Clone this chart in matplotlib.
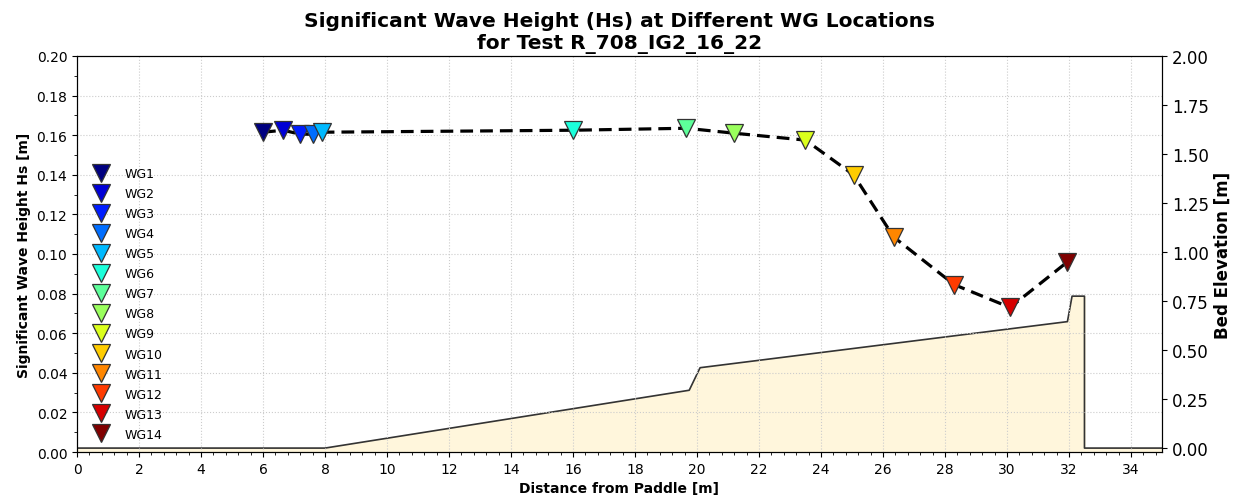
import matplotlib
matplotlib.use("Agg")
import matplotlib.pyplot as plt
import numpy as np
from matplotlib.ticker import AutoMinorLocator, MultipleLocator

# wave gauge positions and measured Hs
wg_names = ['WG%d' % i for i in range(1, 15)]
wg_x = [6.0, 6.65, 7.2, 7.6, 7.9, 16.0, 19.65, 21.2, 23.5, 25.05, 26.35, 28.3, 30.1, 31.95]
hs = [0.1615, 0.1625, 0.1605, 0.1605, 0.1615, 0.1625, 0.1635, 0.161, 0.1575, 0.140,
      0.1085, 0.0845, 0.0730, 0.0960]

# bathymetry profile
bed_x = [0.0, 8.0, 19.75, 20.1, 31.95, 32.1, 32.5, 32.5, 35.0]
bed_z = [0.0, 0.0, 0.295, 0.41, 0.645, 0.775, 0.775, 0.0, 0.0]

fig, ax = plt.subplots(figsize=(12.36, 5.02), dpi=100)
fig.subplots_adjust(left=0.0623, right=0.9401, top=0.8865, bottom=0.0976)

ax2 = ax.twinx()
ax2.fill_between(bed_x, -0.02, bed_z, color='#fff6dc', zorder=1)
ax2.plot(bed_x, bed_z, color='#333333', lw=1.2, zorder=2)
ax2.set_ylim(-0.02, 2.0)
ax2.yaxis.set_major_locator(MultipleLocator(0.25))
ax2.set_ylabel('Bed Elevation [m]', fontsize=12, fontweight='bold')
ax2.tick_params(axis='y', labelsize=12)

# draw the wave axis on top of the bed axis
ax.set_zorder(ax2.get_zorder() + 1)
ax.patch.set_visible(False)

ax.plot(wg_x, hs, '--', color='black', lw=2.3, dashes=(4, 2.2), zorder=3)
colors = plt.cm.jet(np.linspace(0, 1, len(wg_names)))
for name, x, h, c in zip(wg_names, wg_x, hs, colors):
    ax.plot(x, h, 'v', ms=13, color=c, markeredgecolor='#333333', markeredgewidth=0.9,
            label=name, zorder=4, linestyle='none')

ax.set_xlim(0, 35)
ax.set_ylim(0, 0.2)
ax.xaxis.set_major_locator(MultipleLocator(2))
ax.xaxis.set_minor_locator(AutoMinorLocator(5))
ax.yaxis.set_major_locator(MultipleLocator(0.02))
ax.yaxis.set_minor_locator(AutoMinorLocator(2))
ax.tick_params(axis='both', labelsize=10)
ax.grid(True, which='major', linestyle=':', color='#cccccc', lw=0.8)

ax.set_xlabel('Distance from Paddle [m]', fontsize=10, fontweight='bold')
ax.set_ylabel('Significant Wave Height Hs [m]', fontsize=10, fontweight='bold')
ax.set_title('Significant Wave Height (Hs) at Different WG Locations\nfor Test R_708_IG2_16_22',
             fontsize=14.5, fontweight='bold')

ax.legend(loc='lower left', frameon=False, fontsize=9, labelspacing=0.565,
          handletextpad=0.9, borderaxespad=0.5, bbox_to_anchor=(0.0, 0.0))

fig.savefig('out.png', dpi=100)
